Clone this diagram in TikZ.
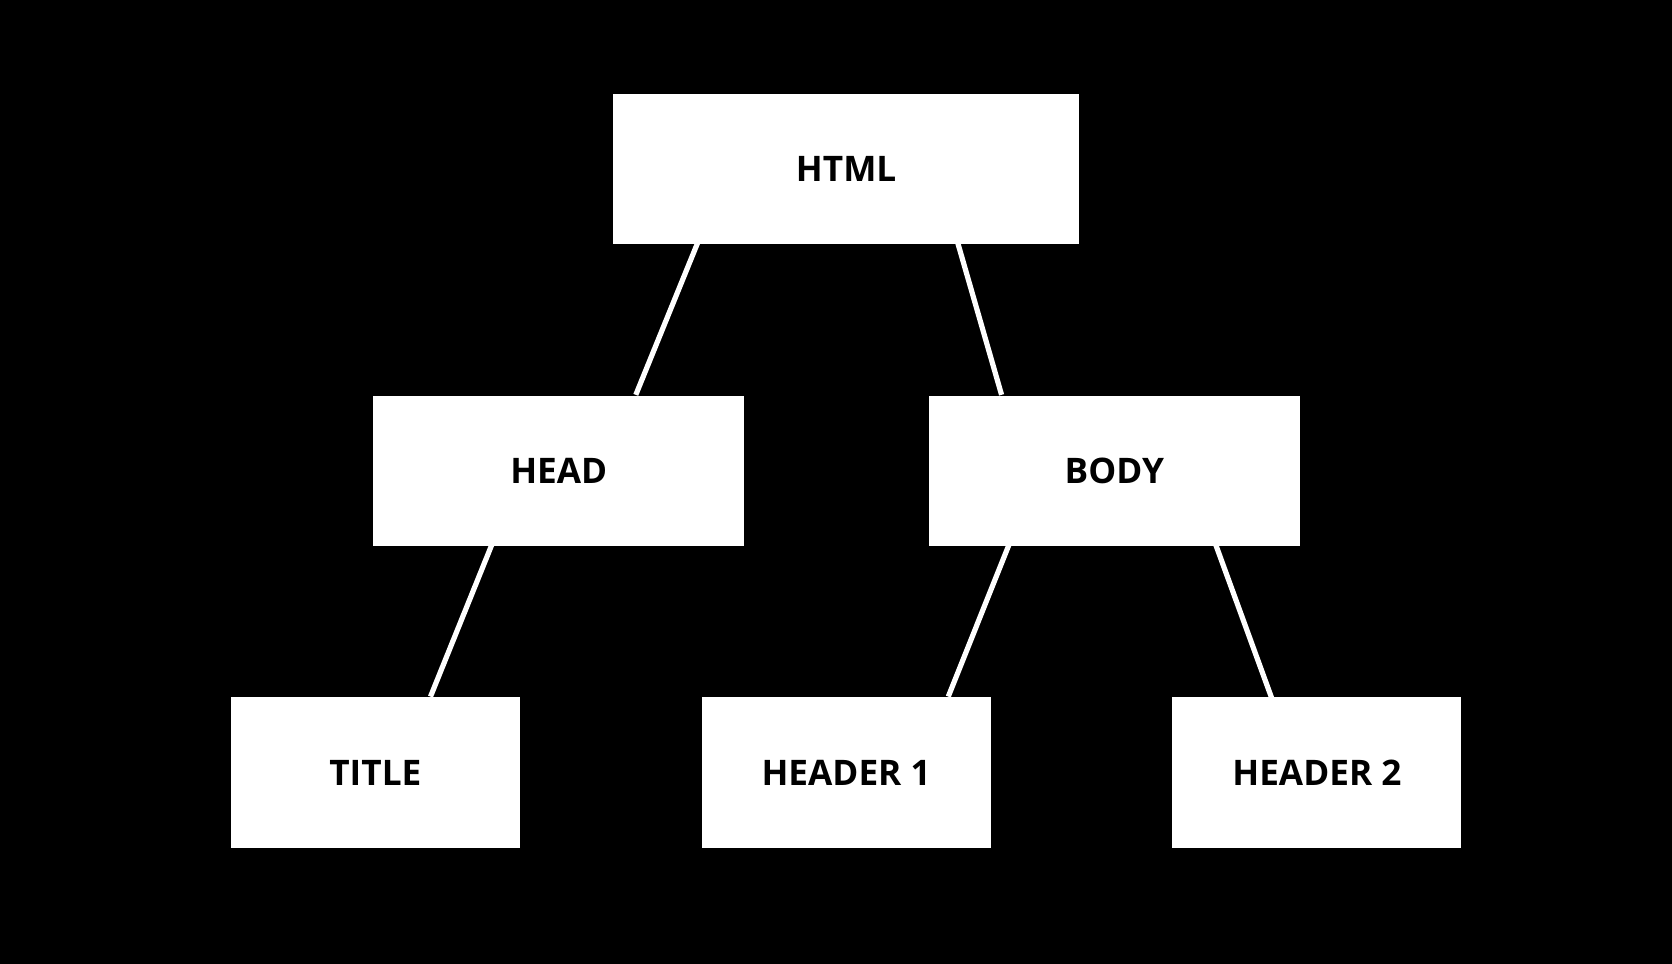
\documentclass[tikz,border=0pt]{standalone}
\usepackage{fontspec}
\setmainfont{Open Sans}
\tikzset{every picture/.style={line width=0.75pt}}
\tikzset{
  tagbox/.style={fill=white, draw=none, inner sep=0pt, font=\fontsize{17.6}{20}\selectfont\bfseries, text=black},
  tagline/.style={draw=white, line width=2.6pt},
}

\begin{document}
\begin{tikzpicture}[x=0.5332pt,y=0.5332pt,yscale=-1,xscale=1]
%background, sets the picture size
\fill[black] (0,0) rectangle (1568,904);

% Text Node
\node [tagbox, minimum width=233pt, minimum height=75.2pt] (html) at (793.5,158.5) {HTML};
% Text Node
\node [tagbox, minimum width=185.6pt, minimum height=75.2pt] (head) at (524,441.5) {HEAD};
% Text Node
\node [tagbox, minimum width=185.6pt, minimum height=75.2pt] (body) at (1045,441.5) {BODY};
% Text Node
\node [tagbox, minimum width=144.5pt, minimum height=75.2pt] (title) at (352,724.5) {TITLE};
% Text Node
\node [tagbox, minimum width=144.5pt, minimum height=75.2pt] (hdrone) at (793.5,724.5) {HEADER 1};
% Text Node
\node [tagbox, minimum width=144.5pt, minimum height=75.2pt] (hdrtwo) at (1235,724.5) {HEADER 2};

%Straight Lines
\draw [tagline] ([xshift=42.6pt,yshift=-1pt]html.south west) -- ([xshift=131.7pt]head.north west);
%Straight Lines
\draw [tagline] ([xshift=172.7pt,yshift=-1pt]html.south west) -- ([xshift=36.8pt]body.north west);
%Straight Lines
\draw [tagline] ([xshift=59.7pt,yshift=-1pt]head.south west) -- ([xshift=100.2pt]title.north west);
%Straight Lines
\draw [tagline] ([xshift=40.5pt,yshift=-1pt]body.south west) -- ([xshift=123.7pt]hdrone.north west);
%Straight Lines
\draw [tagline] ([xshift=143.9pt,yshift=-1pt]body.south west) -- ([xshift=50.1pt,yshift=1pt]hdrtwo.north west);
\end{tikzpicture}
\end{document}
